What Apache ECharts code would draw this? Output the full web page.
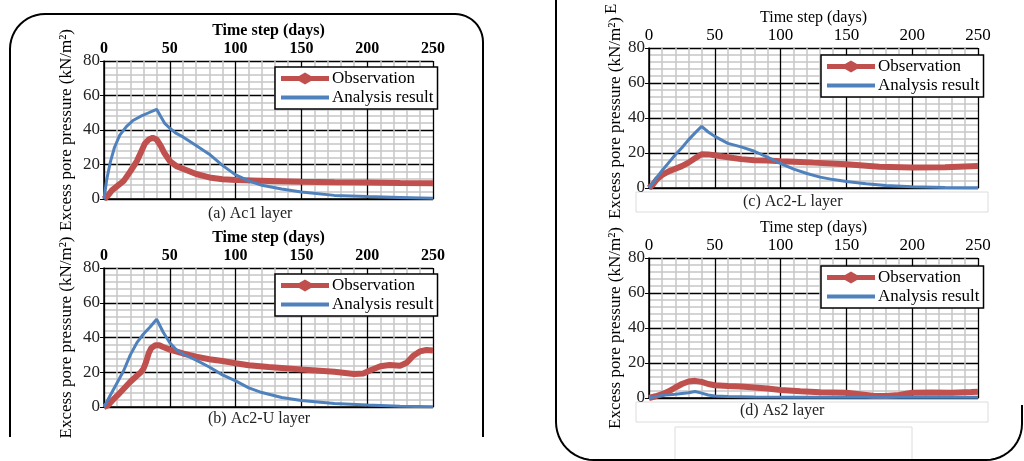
<!DOCTYPE html>
<html><head><meta charset="utf-8">
<script src="https://cdn.jsdelivr.net/npm/echarts@6/dist/echarts.min.js"></script>
<style>html,body{margin:0;padding:0;background:#fff}#c{width:1024px;height:461px}</style>
</head><body><div id="c"></div>
<script>
// ---- data: [day, excess pore pressure kN/m2] ----
const obsA = [[0,0],[3,2],[6,5],[10,7.5],[15,10.5],[20,16],[25,22],[28,27],[31,32],[34,34.5],[37,35.5],[40,34.5],[43,31],[46,26.5],[50,22],[55,19],[60,17.5],[70,14.5],[80,12.5],[90,11.5],[100,11],[125,10.5],[150,10],[175,9.7],[200,9.5],[225,9.3],[250,9.2]];
const anaA = [[0,0],[2,11],[5,22],[8,30],[12,37],[17,42],[22,45.5],[28,48],[34,50],[40,52],[43,48],[46,44],[50,41],[55,38],[60,36],[70,31],[80,26],[90,19.5],[100,14],[110,10.5],[120,8],[135,5.8],[150,4.1],[175,2.1],[200,1.4],[225,0.9],[250,0.4]];
const obsB = [[0,0],[3,1],[6,3.5],[10,6.5],[15,10.5],[20,14.5],[25,18],[28,20],[30,22],[32,26],[34,31],[36,34],[39,35.5],[42,35.5],[45,34.5],[50,33],[60,30.8],[70,29],[80,27.5],[90,26.5],[100,25.2],[110,24],[125,23],[150,21.6],[175,20.3],[190,19],[197,19.3],[202,21],[210,23.5],[217,24.2],[225,23.8],[230,25.5],[235,29.5],[240,32],[245,32.8],[250,32.5]];
const anaB = [[0,0],[5,7],[10,14],[15,21],[20,30],[25,37],[30,42],[35,46],[40,50.5],[45,43],[50,37],[55,33],[60,30.5],[70,27],[80,23],[90,18.5],[100,15],[110,11],[120,8.3],[135,5.5],[150,3.8],[175,2],[200,1.1],[225,0.5],[250,0.2]];
const obsC = [[0,0],[3,2],[6,5],[10,7.5],[15,9.5],[20,11],[25,12.5],[30,14.5],[35,17],[40,19.3],[45,19.2],[50,18.7],[60,17.6],[70,16.5],[80,15.8],[90,15.7],[100,15.3],[115,14.9],[125,14.5],[150,13.6],[175,12.2],[200,11.7],[225,11.8],[240,12.3],[250,12.6]];
const anaC = [[0,0],[5,5],[10,10],[15,14.5],[20,19],[25,23],[30,27.5],[35,31.5],[40,35.2],[45,32],[50,29.5],[55,27.5],[60,25.5],[70,23.5],[80,21],[90,17.7],[100,14],[110,10.8],[120,8.3],[130,6.2],[140,4.8],[150,3.7],[165,2.4],[180,1.4],[200,0.7],[225,0.3],[250,0.2]];
const obsD = [[0,0],[5,1],[10,2.2],[15,3.8],[20,6],[25,8],[30,9.4],[35,9.8],[40,9.2],[45,8],[50,7.3],[60,6.9],[70,6.6],[80,6],[90,5.4],[100,4.6],[115,3.8],[130,3.3],[150,3],[160,2.2],[170,1.3],[180,1.1],[190,1.7],[200,3],[215,3.2],[230,3],[245,3.4],[250,3.6]];
const anaD = [[0,0],[5,0.8],[10,1.5],[20,2.2],[30,3],[35,3.7],[40,2.8],[45,1.7],[50,1.1],[60,0.8],[80,0.6],[100,0.5],[150,0.4],[200,0.4],[250,0.4]];
const xTicks = [0,50,100,150,200,250];
const yTicks = [0,20,40,60,80];
const captions = ['(a) Ac1 layer','(b) Ac2-U layer','(c) Ac2-L layer','(d) As2 layer'];
const xName = 'Time step (days)';
const yName = 'Excess pore pressure (kN/m\u00B2)';
const seriesNames = ['Observation','Analysis result'];

const FONT = '"Liberation Serif", "DejaVu Serif", serif';
const RED = '#C0504D', BLUE = '#4F81BD';
const panels = [
  {left:104, top:61, h:138, bold:true, obs:obsA, ana:anaA, lg:[275,67], cap:[268,215], ng:29},
  {left:104, top:268, h:139, bold:true, obs:obsB, ana:anaB, lg:[275,274], cap:[268,420], ng:29},
  {left:649, top:48, h:140, bold:false, obs:obsC, ana:anaC, lg:[821,55], cap:[803,203], ng:25},
  {left:649, top:258, h:140, bold:false, obs:obsD, ana:anaD, lg:[821,266], cap:[800,412], ng:25}
];
const grid=[], xAxis=[], yAxis=[], series=[], legend=[], graphic=[];
panels.forEach((p,i)=>{
  grid.push({left:p.left, top:p.top, width:329, height:p.h, containLabel:false});
  xAxis.push({type:'value', gridIndex:i, position:'top', min:xTicks[0], max:xTicks[xTicks.length-1], interval:50,
    name:xName, nameLocation:'middle', nameGap:22,
    nameTextStyle:{fontFamily:FONT, fontSize:16, fontWeight:p.bold?'bold':'normal', color:'#000'},
    axisLine:{show:true, lineStyle:{color:'#000', width:1.5}},
    axisTick:{show:true, length:4, lineStyle:{color:'#000'}},
    axisLabel:{fontFamily:FONT, fontSize:p.bold?16:17, fontWeight:p.bold?'bold':'normal', color:'#000', margin:4},
    splitLine:{show:true, lineStyle:{color:'#000', width:1.3}},
    minorTick:{show:false, splitNumber:5},
    minorSplitLine:{show:true, lineStyle:{color:'#c6c6c6', width:1.5}}
  });
  yAxis.push({type:'value', gridIndex:i, min:yTicks[0], max:yTicks[yTicks.length-1], interval:20,
    name:yName, nameLocation:'middle', nameGap:p.ng, nameRotate:90,
    nameTextStyle:{fontFamily:FONT, fontSize:17, color:'#000'},
    axisLine:{show:true, lineStyle:{color:'#000', width:1.5}},
    axisTick:{show:true, length:4, lineStyle:{color:'#000'}},
    axisLabel:{fontFamily:FONT, fontSize:17, color:'#222', margin:4},
    splitLine:{show:true, lineStyle:{color:'#000', width:1.3}},
    minorTick:{show:false, splitNumber:5},
    minorSplitLine:{show:true, lineStyle:{color:'#c6c6c6', width:1.5}}
  });
  series.push({type:'line', name:seriesNames[0], xAxisIndex:i, yAxisIndex:i, data:p.obs, showSymbol:false, symbol:'diamond',
    lineStyle:{color:RED, width:6}, itemStyle:{color:RED}, z:3});
  series.push({type:'line', name:seriesNames[1], xAxisIndex:i, yAxisIndex:i, data:p.ana, showSymbol:false,
    lineStyle:{color:BLUE, width:3}, itemStyle:{color:BLUE}, z:4});
  legend.push({left:p.lg[0], top:p.lg[1], orient:'vertical', itemGap:2, padding:[3,4,3,6],
    backgroundColor:'#fff', borderColor:'#000', borderWidth:1.5, borderRadius:0,
    itemWidth:48, itemHeight:12, selectedMode:false,
    textStyle:{fontFamily:FONT, fontSize:17, color:'#000', padding:[0,0,0,-2]},
    data:[{name:seriesNames[0], icon:'path://M0,3.5H18L24,0L30,3.5H48V8.5H30L24,12L18,8.5H0Z'},
          {name:seriesNames[1], icon:'path://M0,4H48V8H0Z'}]});
  graphic.push({type:'text', left:p.cap[0]-60, top:p.cap[1]-9, z:10,
    style:{text:captions[i], font:'16px '+FONT, fill:'#222'}});
});
// decorative frames
function arcPts(cx,cy,r,a0,a1){const pts=[];for(let k=0;k<=12;k++){const a=(a0+(a1-a0)*k/12)*Math.PI/180;pts.push([cx+r*Math.cos(a),cy+r*Math.sin(a)]);}return pts;}
const leftFrame=[[10,437]].concat(arcPts(45,49,35,180,270), arcPts(455,42,28,270,360), [[483,437]]);
const rightFrame=[[556,0]].concat(arcPts(594,422,38,180,90), arcPts(986,424,36,90,0), [[1022,405]]);
graphic.push({type:'polyline', shape:{points:leftFrame}, style:{stroke:'#000', lineWidth:2, fill:null}, z:20});
graphic.push({type:'polyline', shape:{points:rightFrame}, style:{stroke:'#000', lineWidth:2, fill:null}, z:20});
// faint caption boxes (c),(d)
graphic.push({type:'rect', shape:{x:636,y:192,width:352,height:20}, style:{stroke:'#dcdcdc', lineWidth:1, fill:null}, z:0});
graphic.push({type:'rect', shape:{x:636,y:402,width:352,height:20}, style:{stroke:'#dcdcdc', lineWidth:1, fill:null}, z:0});
graphic.push({type:'rect', shape:{x:675,y:427,width:237,height:40}, style:{stroke:'#dcdcdc', lineWidth:1, fill:null}, z:0});
// cut-off fragment of a label above panel (c)
graphic.push({type:'text', x:603, y:14, rotation:Math.PI/2, style:{text:'E', font:'17px '+FONT, fill:'#000'}, z:10});

const chart = echarts.init(document.getElementById('c'), null, {renderer:'canvas'});
chart.setOption({animation:false, backgroundColor:'#fff', grid, xAxis, yAxis, series, legend, graphic});
</script></body></html>
